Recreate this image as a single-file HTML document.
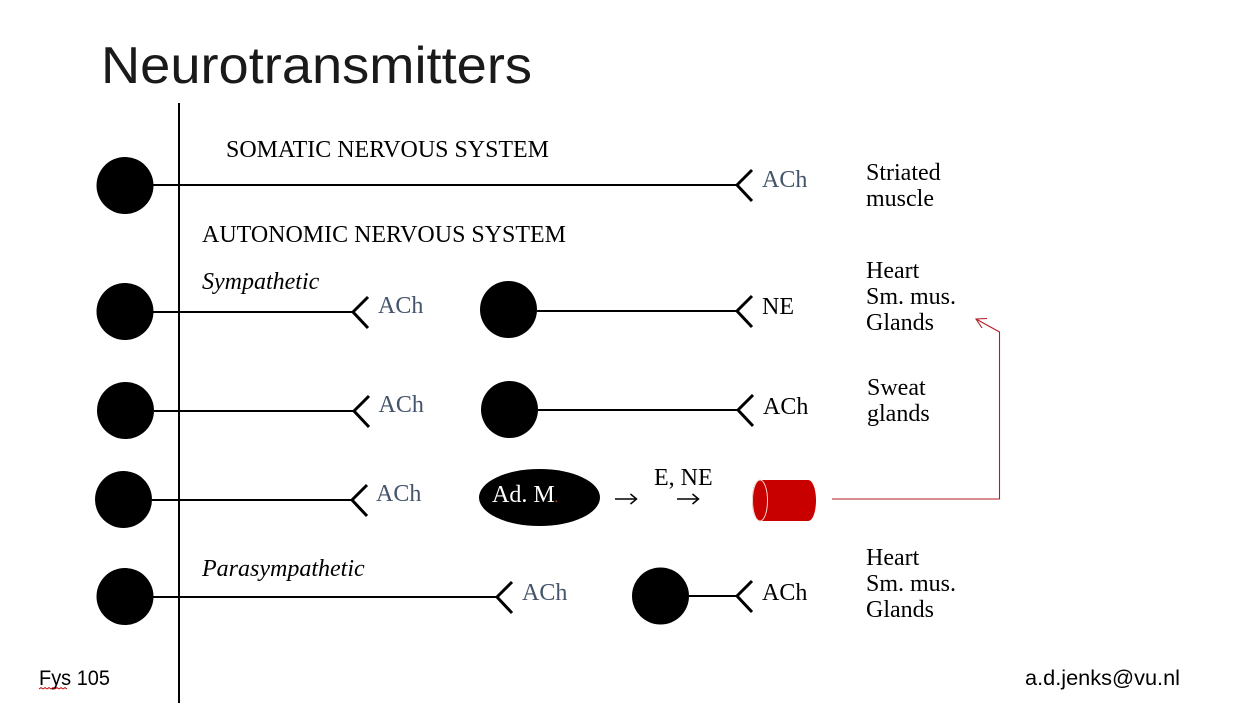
<!DOCTYPE html>
<html>
<head>
<meta charset="utf-8">
<style>
html,body{margin:0;padding:0;background:#fff;width:1260px;height:705px;overflow:hidden}
svg{display:block}
text{font-family:"Liberation Serif",serif;font-size:24px;fill:#000}
.s{font-family:"Liberation Sans",sans-serif}
.g{fill:#44546a}
.l{stroke:#000;stroke-width:2;fill:none}
.f{stroke:#000;stroke-width:3;fill:none}
</style>
</head>
<body>
<svg width="1260" height="705" viewBox="0 0 1260 705" xmlns="http://www.w3.org/2000/svg">
<rect width="1260" height="705" fill="#fff"/>
<text class="s" x="101" y="83" style="font-size:52px;fill:#1a1a1a" textLength="431" lengthAdjust="spacingAndGlyphs">Neurotransmitters</text>

<line class="l" x1="179" y1="103" x2="179" y2="703"/>

<!-- row 1 -->
<circle cx="125" cy="185.500" r="28.500"/>
<line class="l" x1="153" y1="185" x2="737" y2="185"/>
<path class="f" d="M752 170 L737 185 L752 201"/>
<text x="226" y="157" textLength="323" lengthAdjust="spacingAndGlyphs">SOMATIC NERVOUS SYSTEM</text>
<text class="g" x="762" y="187">ACh</text>
<text x="866" y="180">Striated</text>
<text x="866" y="206">muscle</text>

<text x="202" y="242" textLength="364" lengthAdjust="spacingAndGlyphs">AUTONOMIC NERVOUS SYSTEM</text>

<!-- row 2 -->
<text x="202" y="289" font-style="italic">Sympathetic</text>
<circle cx="125" cy="311.500" r="28.500"/>
<line class="l" x1="153" y1="312" x2="353" y2="312"/>
<path class="f" d="M368 297 L353 312 L368 328"/>
<text class="g" x="378" y="313">ACh</text>
<circle cx="508.500" cy="309.500" r="28.500"/>
<line class="l" x1="537" y1="311" x2="737" y2="311"/>
<path class="f" d="M752 296 L737 311 L752 327"/>
<text x="762" y="314">NE</text>
<text x="866" y="278">Heart</text>
<text x="866" y="304">Sm. mus.</text>
<text x="866" y="330">Glands</text>

<!-- row 3 -->
<circle cx="125.500" cy="410.500" r="28.500"/>
<line class="l" x1="154" y1="411" x2="354" y2="411"/>
<path class="f" d="M369 396 L354 411 L369 427"/>
<text class="g" x="378.500" y="412">ACh</text>
<circle cx="509.500" cy="409.500" r="28.500"/>
<line class="l" x1="538" y1="410" x2="738" y2="410"/>
<path class="f" d="M753 395 L738 410 L753 426"/>
<text x="763" y="414">ACh</text>
<text x="867" y="395">Sweat</text>
<text x="867" y="421">glands</text>

<!-- row 4 -->
<circle cx="123.500" cy="499.500" r="28.500"/>
<line class="l" x1="152" y1="500" x2="352" y2="500"/>
<path class="f" d="M367 485 L352 500 L367 516"/>
<text class="g" x="376" y="501">ACh</text>
<ellipse cx="539.500" cy="497.500" rx="60.500" ry="28.500"/>
<text x="492" y="502" style="fill:#fff">Ad. M<tspan style="fill:#c55a11;font-size:14px">.</tspan></text>
<line x1="615" y1="499" x2="636" y2="499" stroke="#000" stroke-width="1.600"/>
<path d="M630.500 494 L636.500 499 L630.500 504" fill="none" stroke="#000" stroke-width="1.500"/>
<text x="654" y="485">E, NE</text>
<line x1="677" y1="499" x2="698" y2="499" stroke="#000" stroke-width="1.600"/>
<path d="M692.500 494 L698.500 499 L692.500 504" fill="none" stroke="#000" stroke-width="1.500"/>

<path d="M760 480 H808 C813 480 816 490 816 500.500 C816 511 813 521 808 521 H760 C755 521 752 511 752 500.500 C752 490 755 480 760 480 Z" fill="#c80000"/>
<ellipse cx="760" cy="500.500" rx="7.500" ry="20.500" fill="#c80000" stroke="#f6d5d0" stroke-width="1"/>

<path d="M832 499 H999.500 V332 L976 319" fill="none" stroke="#b01e24" stroke-width="1.100"/>
<path d="M987 318.500 L976 319 L982 328" fill="none" stroke="#b01e24" stroke-width="1.100"/>

<!-- row 5 -->
<text x="202" y="576" font-style="italic">Parasympathetic</text>
<circle cx="125" cy="596.500" r="28.500"/>
<line class="l" x1="153" y1="597" x2="497" y2="597"/>
<path class="f" d="M512 582 L497 597 L512 613"/>
<text class="g" x="522" y="600">ACh</text>
<circle cx="660.500" cy="596" r="28.500"/>
<line class="l" x1="689" y1="596" x2="737" y2="596"/>
<path class="f" d="M752 581 L737 596 L752 612"/>
<text x="762" y="600">ACh</text>
<text x="866" y="565">Heart</text>
<text x="866" y="591">Sm. mus.</text>
<text x="866" y="617">Glands</text>

<!-- footer -->
<text class="s" x="39" y="685" style="font-size:21px" textLength="71" lengthAdjust="spacingAndGlyphs">Fys 105</text>
<path d="M39 689 l2 -1.500 l2 1.500 l2 -1.500 l2 1.500 l2 -1.500 l2 1.500 l2 -1.500 l2 1.500 l2 -1.500 l2 1.500 l2 -1.500 l2 1.500 l2 -1.500 l2 1.500" fill="none" stroke="#c00000" stroke-width="0.800"/>
<text class="s" x="1025" y="685" style="font-size:21px" textLength="155" lengthAdjust="spacingAndGlyphs">a.d.jenks@vu.nl</text>
</svg>
</body>
</html>
